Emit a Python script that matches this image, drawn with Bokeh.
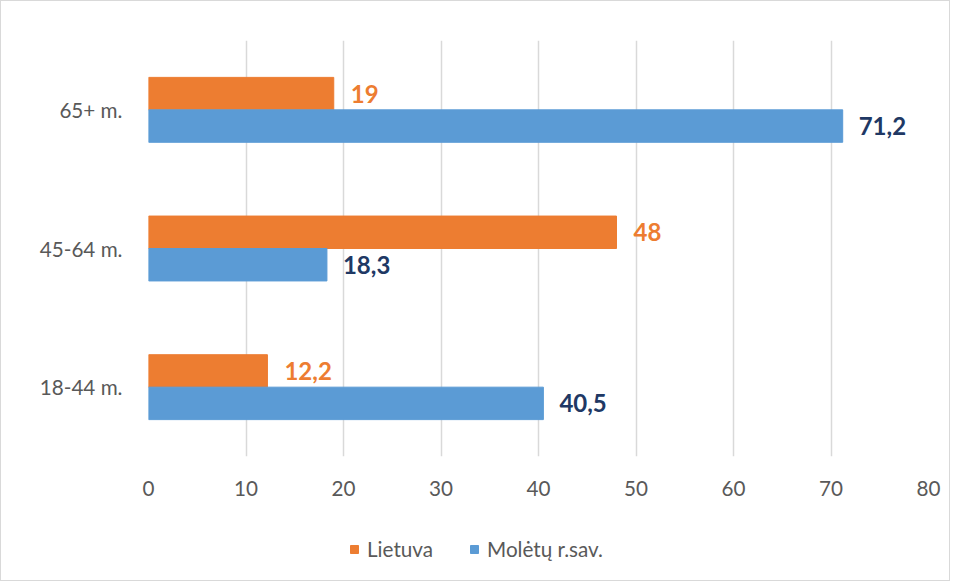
from bokeh.plotting import figure
from bokeh.models import (ColumnDataSource, Range1d, FactorRange, Legend, LegendItem,
                          FixedTicker, Column)
from bokeh.transform import dodge
from bokeh.core.properties import value
from bokeh.embed import file_html
from bokeh.resources import INLINE

categories = ["18-44 m.", "45-64 m.", "65+ m."]
lietuva = [12.2, 48, 19]
moletu = [40.5, 18.3, 71.2]
series_names = ["Lietuva", "Molėtų r.sav."]
x_ticks = [0, 10, 20, 30, 40, 50, 60, 70, 80]

FONT = "Lato"
ORANGE = "#ED7D31"
BLUE = "#5B9BD5"


def fmt(v):
    return f"{v:g}".replace(".", ",")


src = ColumnDataSource(dict(
    cat=categories,
    lt=lietuva,
    mo=moletu,
    lt_txt=[fmt(v) for v in lietuva],
    mo_txt=[fmt(v) for v in moletu],
))

p = figure(
    frame_width=780, frame_height=416,
    y_range=FactorRange(*categories, range_padding=0),
    x_range=Range1d(0, 80),
    output_backend="svg", toolbar_location=None,
    min_border_left=147, min_border_right=21, min_border_top=39, min_border_bottom=49,
)
p.outline_line_color = None

bar_h = 0.234
r1 = p.hbar(y=dodge("cat", 0.117, range=p.y_range), right="lt", left=0, height=bar_h,
            source=src, fill_color=ORANGE, line_color=ORANGE)
r2 = p.hbar(y=dodge("cat", -0.117, range=p.y_range), right="mo", left=0, height=bar_h,
            source=src, fill_color=BLUE, line_color=BLUE)

p.text(x="lt", y=dodge("cat", 0.117, range=p.y_range), text="lt_txt", source=src,
       x_offset=17, text_align="left", text_baseline="middle",
       text_font=value(FONT), text_font_style="bold", text_font_size="18pt",
       text_color=ORANGE)
p.text(x="mo", y=dodge("cat", -0.117, range=p.y_range), text="mo_txt", source=src,
       x_offset=16, text_align="left", text_baseline="middle",
       text_font=value(FONT), text_font_style="bold", text_font_size="18pt",
       text_color="#203864")

# grid
p.ygrid.grid_line_color = None
p.xgrid.grid_line_color = "#D9D9D9"
p.xgrid.grid_line_width = 1.5
p.xaxis.ticker = FixedTicker(ticks=x_ticks)

for ax in (p.xaxis[0], p.yaxis[0]):
    ax.axis_line_color = None
    ax.major_tick_line_color = None
    ax.minor_tick_line_color = None
    ax.major_tick_out = 0
    ax.major_tick_in = 0
    ax.major_label_text_font = FONT
    ax.major_label_text_font_size = "15.5pt"
    ax.major_label_text_color = "#595959"

p.xaxis.major_label_standoff = 24
p.yaxis.major_label_standoff = 26

# legend strip below the chart
p2 = figure(
    width=948, height=75,
    y_range=FactorRange(*categories, range_padding=0),
    x_range=Range1d(0, 80),
    x_axis_type=None, y_axis_type=None,
    output_backend="svg", toolbar_location=None,
    min_border=0,
)
p2.outline_line_color = None
p2.grid.visible = False
g1 = p2.hbar(y="cat", right="lt", left=0, height=bar_h, source=src,
             fill_color=ORANGE, line_color=ORANGE, visible=False)
g2 = p2.hbar(y="cat", right="mo", left=0, height=bar_h, source=src,
             fill_color=BLUE, line_color=BLUE, visible=False)

legend = Legend(items=[LegendItem(label=series_names[0], renderers=[g1]),
                       LegendItem(label=series_names[1], renderers=[g2])],
                orientation="horizontal", location=(201, 19),
                label_text_font=FONT, label_text_font_size="15.5pt",
                label_text_color="#595959",
                glyph_width=10, glyph_height=10, spacing=36, label_standoff=8,
                border_line_color=None, background_fill_alpha=0,
                margin=0, padding=8)
p2.add_layout(legend, "center")

layout = Column(children=[p, p2], spacing=0,
                styles={"border": "1.5px solid #D9D9D9"})

open("out.html", "w").write(file_html(layout, INLINE))
